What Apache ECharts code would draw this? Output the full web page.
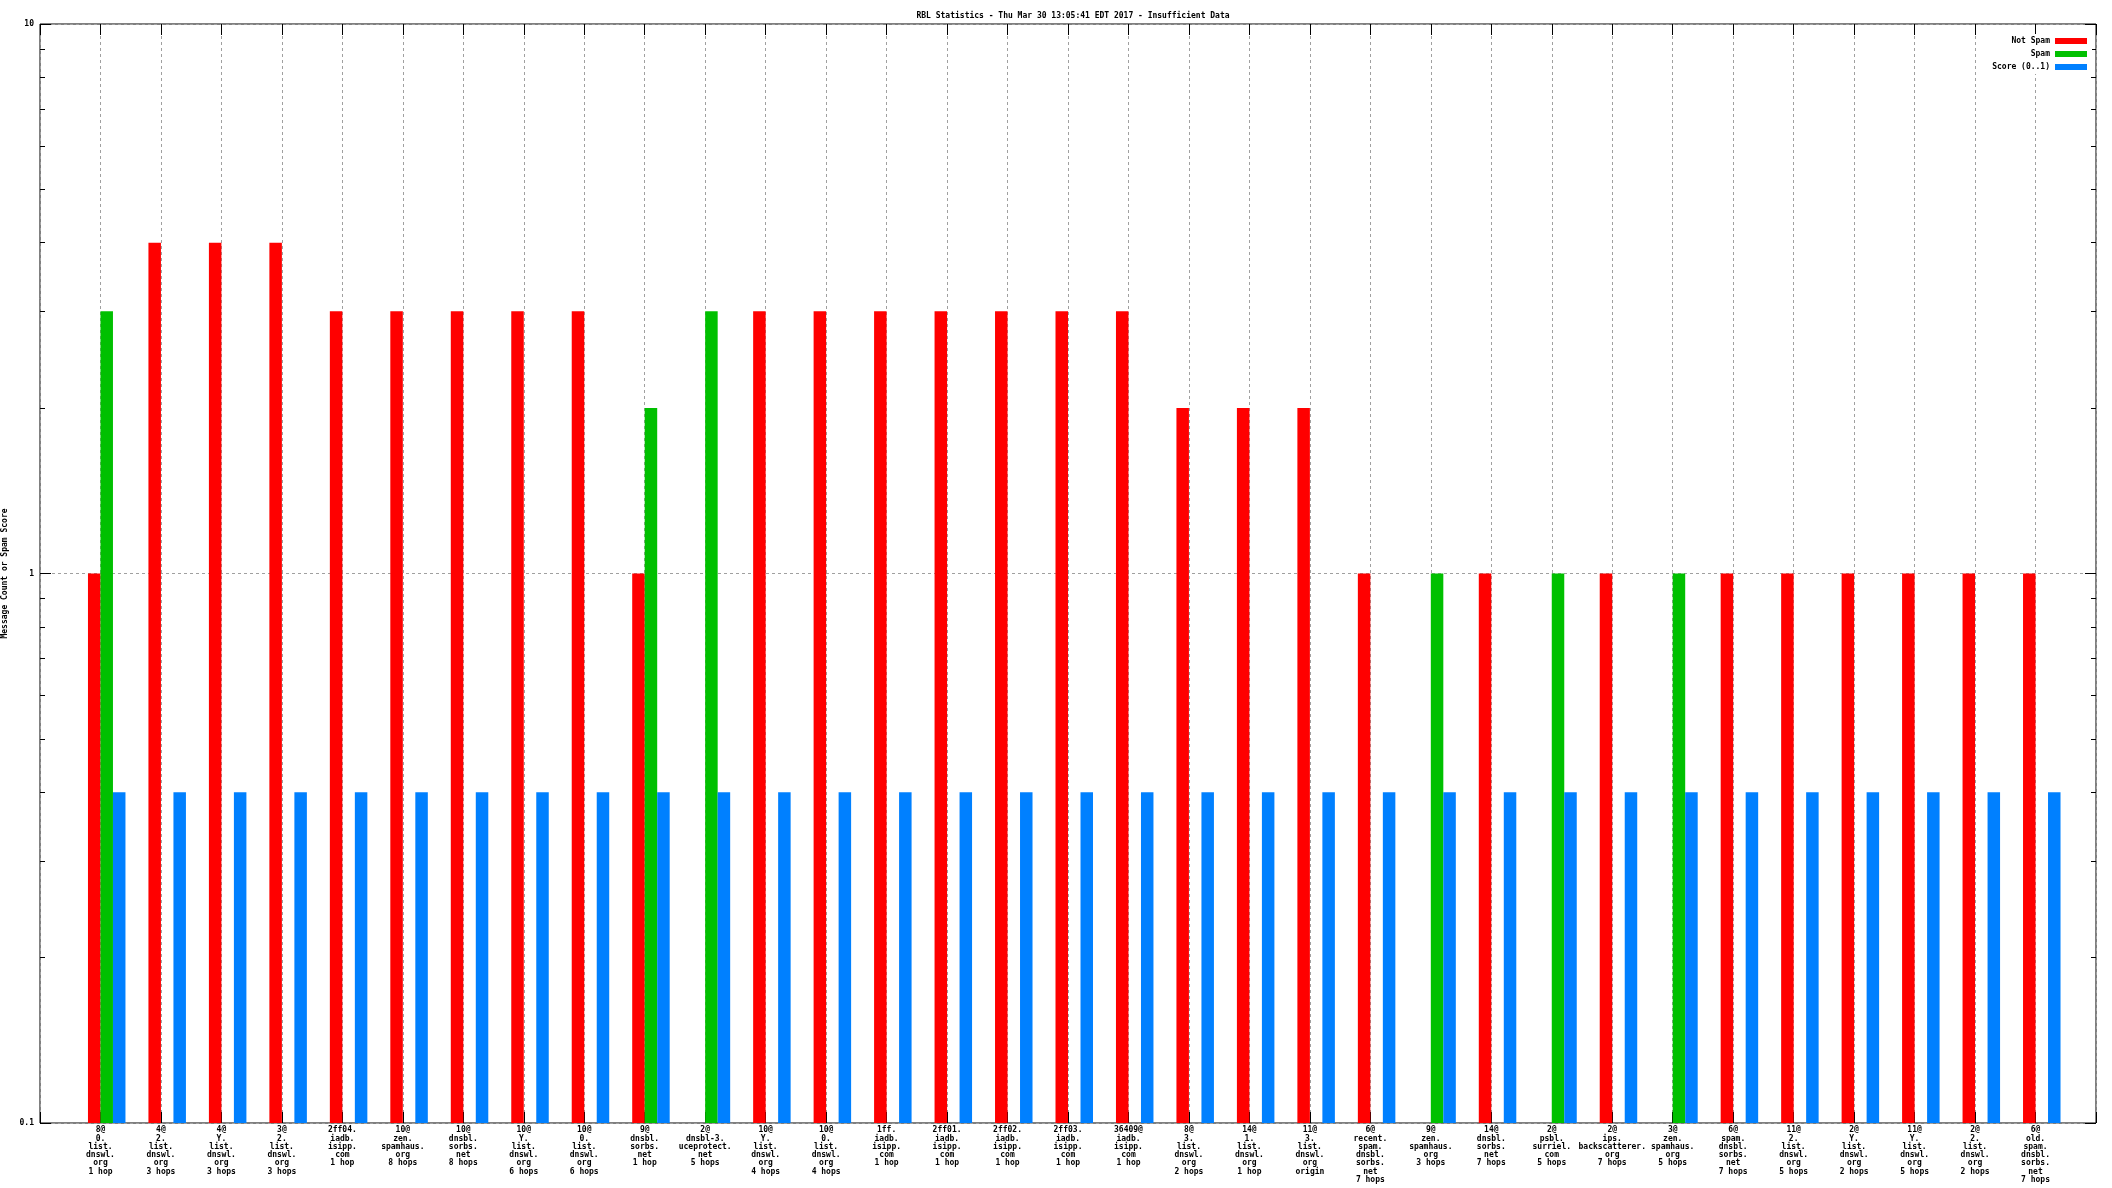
<!DOCTYPE html>
<html><head><meta charset="utf-8">
<script src="https://cdn.jsdelivr.net/npm/echarts@6/dist/echarts.min.js"></script>
<style>html,body{margin:0;padding:0;background:#fff}#c{width:2112px;height:1188px}</style>
</head><body><div id="c"></div>
<script>
const categories = [
  '8@\n0.\nlist.\ndnswl.\norg\n1 hop',
  '4@\n2.\nlist.\ndnswl.\norg\n3 hops',
  '4@\nY.\nlist.\ndnswl.\norg\n3 hops',
  '3@\n2.\nlist.\ndnswl.\norg\n3 hops',
  '2ff04.\niadb.\nisipp.\ncom\n1 hop',
  '10@\nzen.\nspamhaus.\norg\n8 hops',
  '10@\ndnsbl.\nsorbs.\nnet\n8 hops',
  '10@\nY.\nlist.\ndnswl.\norg\n6 hops',
  '10@\n0.\nlist.\ndnswl.\norg\n6 hops',
  '9@\ndnsbl.\nsorbs.\nnet\n1 hop',
  '2@\ndnsbl-3.\nuceprotect.\nnet\n5 hops',
  '10@\nY.\nlist.\ndnswl.\norg\n4 hops',
  '10@\n0.\nlist.\ndnswl.\norg\n4 hops',
  '1ff.\niadb.\nisipp.\ncom\n1 hop',
  '2ff01.\niadb.\nisipp.\ncom\n1 hop',
  '2ff02.\niadb.\nisipp.\ncom\n1 hop',
  '2ff03.\niadb.\nisipp.\ncom\n1 hop',
  '36409@\niadb.\nisipp.\ncom\n1 hop',
  '8@\n3.\nlist.\ndnswl.\norg\n2 hops',
  '14@\n1.\nlist.\ndnswl.\norg\n1 hop',
  '11@\n3.\nlist.\ndnswl.\norg\norigin',
  '6@\nrecent.\nspam.\ndnsbl.\nsorbs.\nnet\n7 hops',
  '9@\nzen.\nspamhaus.\norg\n3 hops',
  '14@\ndnsbl.\nsorbs.\nnet\n7 hops',
  '2@\npsbl.\nsurriel.\ncom\n5 hops',
  '2@\nips.\nbackscatterer.\norg\n7 hops',
  '3@\nzen.\nspamhaus.\norg\n5 hops',
  '6@\nspam.\ndnsbl.\nsorbs.\nnet\n7 hops',
  '11@\n2.\nlist.\ndnswl.\norg\n5 hops',
  '2@\nY.\nlist.\ndnswl.\norg\n2 hops',
  '11@\nY.\nlist.\ndnswl.\norg\n5 hops',
  '2@\n2.\nlist.\ndnswl.\norg\n2 hops',
  '6@\nold.\nspam.\ndnsbl.\nsorbs.\nnet\n7 hops'
];
const notSpam = [1,4,4,4,3,3,3,3,3,1,null,3,3,3,3,3,3,3,2,2,2,1,null,1,null,1,null,1,1,1,1,1,1];
const spam    = [3,null,null,null,null,null,null,null,null,2,3,null,null,null,null,null,null,null,null,null,null,null,1,null,1,null,1,null,null,null,null,null,null];
const score   = [0.4,0.4,0.4,0.4,0.4,0.4,0.4,0.4,0.4,0.4,0.4,0.4,0.4,0.4,0.4,0.4,0.4,0.4,0.4,0.4,0.4,0.4,0.4,0.4,0.4,0.4,0.4,0.4,0.4,0.4,0.4,0.4,0.4];
const seriesNames = ['Not Spam', 'Spam', 'Score (0..1)'];
const seriesColors = ['#ff0000', '#00c000', '#0080ff'];
const yTickValues = [0.1, 1, 10];
const yTickLabels = ['0.1', '1', '10'];
const yMinorTicks = [0.2,0.3,0.4,0.5,0.6,0.7,0.8,0.9,2,3,4,5,6,7,8,9];
const titleText = 'RBL Statistics - Thu Mar 30 13:05:41 EDT 2017 - Insufficient Data';
const yName = 'Message Count or Spam Score';

const FONT = 'DejaVu Sans Mono';
const FW = 'bold';
const X_MIN = -1, X_MAX = categories.length;
const BAR_SHIFT = 0.1033;

const toPairs = arr => arr.map((v, i) => [i, v]);
const tickLine = { lineStyle: { color: '#000', width: 1 } };
const noLine = { show: false, onZero: false };

const chart = echarts.init(document.getElementById('c'));
chart.setOption({
  animation: false,
  backgroundColor: '#fff',
  textStyle: { fontFamily: FONT, color: '#000' },
  title: {
    text: titleText, left: 1068, top: 7, textAlign: 'center',
    textStyle: { fontFamily: FONT, fontSize: 8, fontWeight: FW, color: '#000' }
  },
  legend: {
    orient: 'vertical', right: 20, top: 34, align: 'right',
    itemWidth: 32, itemHeight: 6, itemGap: 5, padding: [3, 5, 3, 5],
    backgroundColor: '#fff', icon: 'rect',
    textStyle: { fontFamily: FONT, fontSize: 8, fontWeight: FW, lineHeight: 8, color: '#000' },
    data: seriesNames
  },
  grid: { left: 40, right: 16, top: 24, bottom: 65, show: true, borderColor: '#000', borderWidth: 1,
          backgroundColor: 'transparent', containLabel: false, outerBoundsMode: 'none' },
  xAxis: [
    {
      type: 'value', position: 'bottom', min: X_MIN, max: X_MAX, interval: 1,
      axisLine: noLine,
      axisTick: Object.assign({ show: true, inside: true, length: 11 }, tickLine),
      splitLine: { show: true, lineStyle: { color: '#a0a0a0', type: [3, 3], width: 1 } },
      axisLabel: {
        fontFamily: FONT, fontSize: 8, fontWeight: FW, lineHeight: 8.3, margin: 3, color: '#000', align: 'center',
        formatter: v => (Number.isInteger(v) && v >= 0 && v < categories.length) ? categories[v] : ''
      }
    },
    {
      type: 'value', position: 'bottom', min: X_MIN - BAR_SHIFT, max: X_MAX - BAR_SHIFT, show: false,
      axisLine: noLine, splitLine: { show: false }
    },
    {
      type: 'value', position: 'top', min: X_MIN, max: X_MAX, interval: 1,
      axisLine: noLine, axisLabel: { show: false }, splitLine: { show: false },
      axisTick: Object.assign({ show: true, inside: true, length: 11 }, tickLine)
    }
  ],
  yAxis: [
    {
      type: 'log', logBase: 10, min: 0.1, max: 10, startValue: 0.1, position: 'left',
      name: yName, nameLocation: 'middle', nameRotate: 90, nameGap: 29,
      nameTextStyle: { fontFamily: FONT, fontSize: 8, fontWeight: FW, color: '#000' },
      axisLine: noLine,
      axisTick: Object.assign({ show: true, inside: true, length: 11, customValues: yTickValues }, tickLine),
      axisLabel: {
        fontFamily: FONT, fontSize: 8, fontWeight: FW, color: '#000', margin: 6,
        customValues: yTickValues,
        formatter: v => { const k = yTickValues.findIndex(t => Math.abs(t - v) < 1e-9); return k >= 0 ? yTickLabels[k] : ''; }
      },
      splitLine: { show: true, lineStyle: { color: '#a0a0a0', type: [3, 3], width: 1 } }
    },
    {
      type: 'log', logBase: 10, min: 0.1, max: 10, position: 'left',
      axisLine: noLine, axisLabel: { show: false }, splitLine: { show: false },
      axisTick: Object.assign({ show: true, inside: true, length: 5, customValues: yMinorTicks }, tickLine)
    },
    {
      type: 'log', logBase: 10, min: 0.1, max: 10, position: 'right',
      axisLine: noLine, axisLabel: { show: false }, splitLine: { show: false },
      axisTick: Object.assign({ show: true, inside: true, length: 11, customValues: yTickValues }, tickLine)
    },
    {
      type: 'log', logBase: 10, min: 0.1, max: 10, position: 'right',
      axisLine: noLine, axisLabel: { show: false }, splitLine: { show: false },
      axisTick: Object.assign({ show: true, inside: true, length: 5, customValues: yMinorTicks }, tickLine)
    }
  ],
  series: [notSpam, spam, score].map((arr, k) => ({
    name: seriesNames[k], type: 'bar', xAxisIndex: 1, yAxisIndex: 0,
    data: toPairs(arr), barWidth: 12.5, barGap: '0%',
    itemStyle: { color: seriesColors[k] }
  }))
});
</script>
</body></html>
